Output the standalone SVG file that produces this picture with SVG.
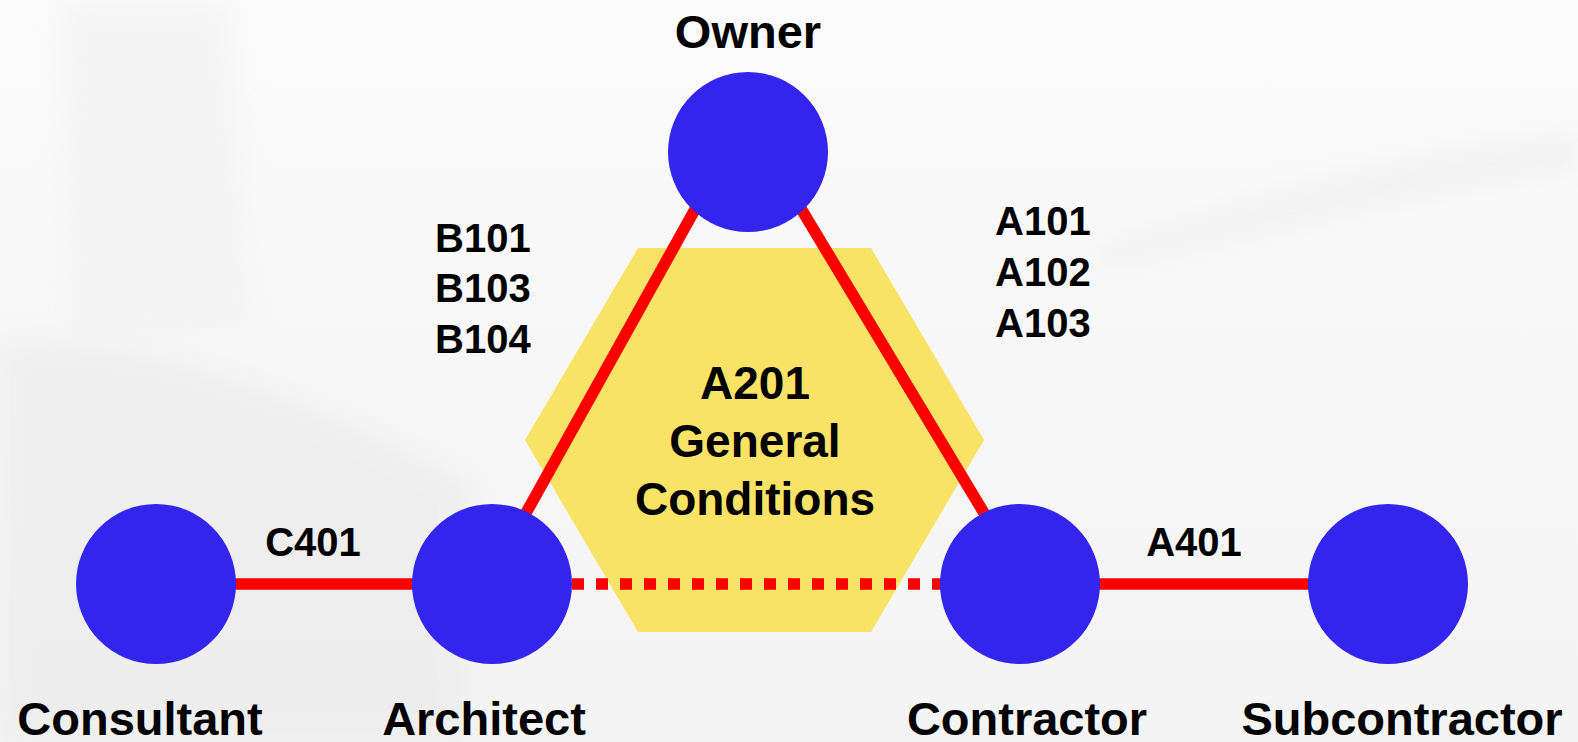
<svg xmlns="http://www.w3.org/2000/svg" width="1578" height="742" viewBox="0 0 1578 742">
  <defs>
    <linearGradient id="bg" x1="0" y1="0" x2="0" y2="1">
      <stop offset="0" stop-color="#FBFBFB"/>
      <stop offset="0.5" stop-color="#F7F7F7"/>
      <stop offset="1" stop-color="#F4F4F4"/>
    </linearGradient>
    <filter id="soft" x="-10%" y="-10%" width="120%" height="120%">
      <feGaussianBlur stdDeviation="14"/>
    </filter>
  </defs>
  <style>
    .node { fill: #3324EE; }
    .edge { stroke: #FF0000; stroke-width: 11.5; fill: none; }
    .dash { stroke-dasharray: 12 12; }
    .lbl { font-family: "Liberation Sans", Arial, Helvetica, sans-serif; font-weight: bold; fill: #000000; }
    .name { font-size: 47px; text-anchor: middle; }
    .code { font-size: 40px; }
    .ctr { font-size: 46px; text-anchor: middle; }
  </style>

  <g id="background">
    <rect x="0" y="0" width="1578" height="742" fill="url(#bg)"/>
    <g filter="url(#soft)" opacity="0.6">
      <path d="M0 340 C 150 330 300 390 470 480 L 470 742 L 0 742 Z" fill="#EAEAEA"/>
      <path d="M60 0 L 230 0 L 250 330 L 70 330 Z" fill="#F1F1F1"/>
      <path d="M1100 250 C 1300 190 1450 150 1578 140 L 1578 165 C 1450 180 1300 220 1100 265 Z" fill="#E8E8E8"/>
    </g>
  </g>

  <g id="hexagon">
    <polygon points="638,248 871,248 984,440 871,632 638,632 525,440" fill="#F8E367"/>
  </g>

  <g id="connectors">
    <line class="edge" x1="700.2" y1="200" x2="519.9" y2="524"/>
    <line class="edge" x1="797" y1="202" x2="990" y2="523"/>
    <line class="edge" x1="156" y1="584" x2="492" y2="584"/>
    <line class="edge dash" x1="572" y1="584" x2="941" y2="584"/>
    <line class="edge" x1="1020" y1="584" x2="1388" y2="584"/>
  </g>

  <g id="center-label">
    <text class="lbl ctr" x="755" y="399">A201</text>
    <text class="lbl ctr" x="755" y="457">General</text>
    <text class="lbl ctr" x="755" y="515">Conditions</text>
  </g>

  <g id="owner">
    <circle class="node" cx="748" cy="152" r="80"/>
    <text class="lbl name" x="748" y="48">Owner</text>
  </g>
  <g id="consultant">
    <circle class="node" cx="156" cy="584" r="80"/>
    <text class="lbl name" x="140" y="735">Consultant</text>
  </g>
  <g id="architect">
    <circle class="node" cx="492" cy="584" r="80"/>
    <text class="lbl name" x="484" y="735">Architect</text>
  </g>
  <g id="contractor">
    <circle class="node" cx="1020" cy="584" r="80"/>
    <text class="lbl name" x="1027" y="735">Contractor</text>
  </g>
  <g id="subcontractor">
    <circle class="node" cx="1388" cy="584" r="80"/>
    <text class="lbl name" x="1402" y="735">Subcontractor</text>
  </g>

  <g id="edge-labels">
    <text class="lbl code" x="435" y="252">B101</text>
    <text class="lbl code" x="435" y="302">B103</text>
    <text class="lbl code" x="435" y="353">B104</text>
    <text class="lbl code" x="995" y="235">A101</text>
    <text class="lbl code" x="995" y="286">A102</text>
    <text class="lbl code" x="995" y="337">A103</text>
    <text class="lbl code" x="313" y="556" text-anchor="middle">C401</text>
    <text class="lbl code" x="1194" y="556" text-anchor="middle">A401</text>
  </g>
</svg>
